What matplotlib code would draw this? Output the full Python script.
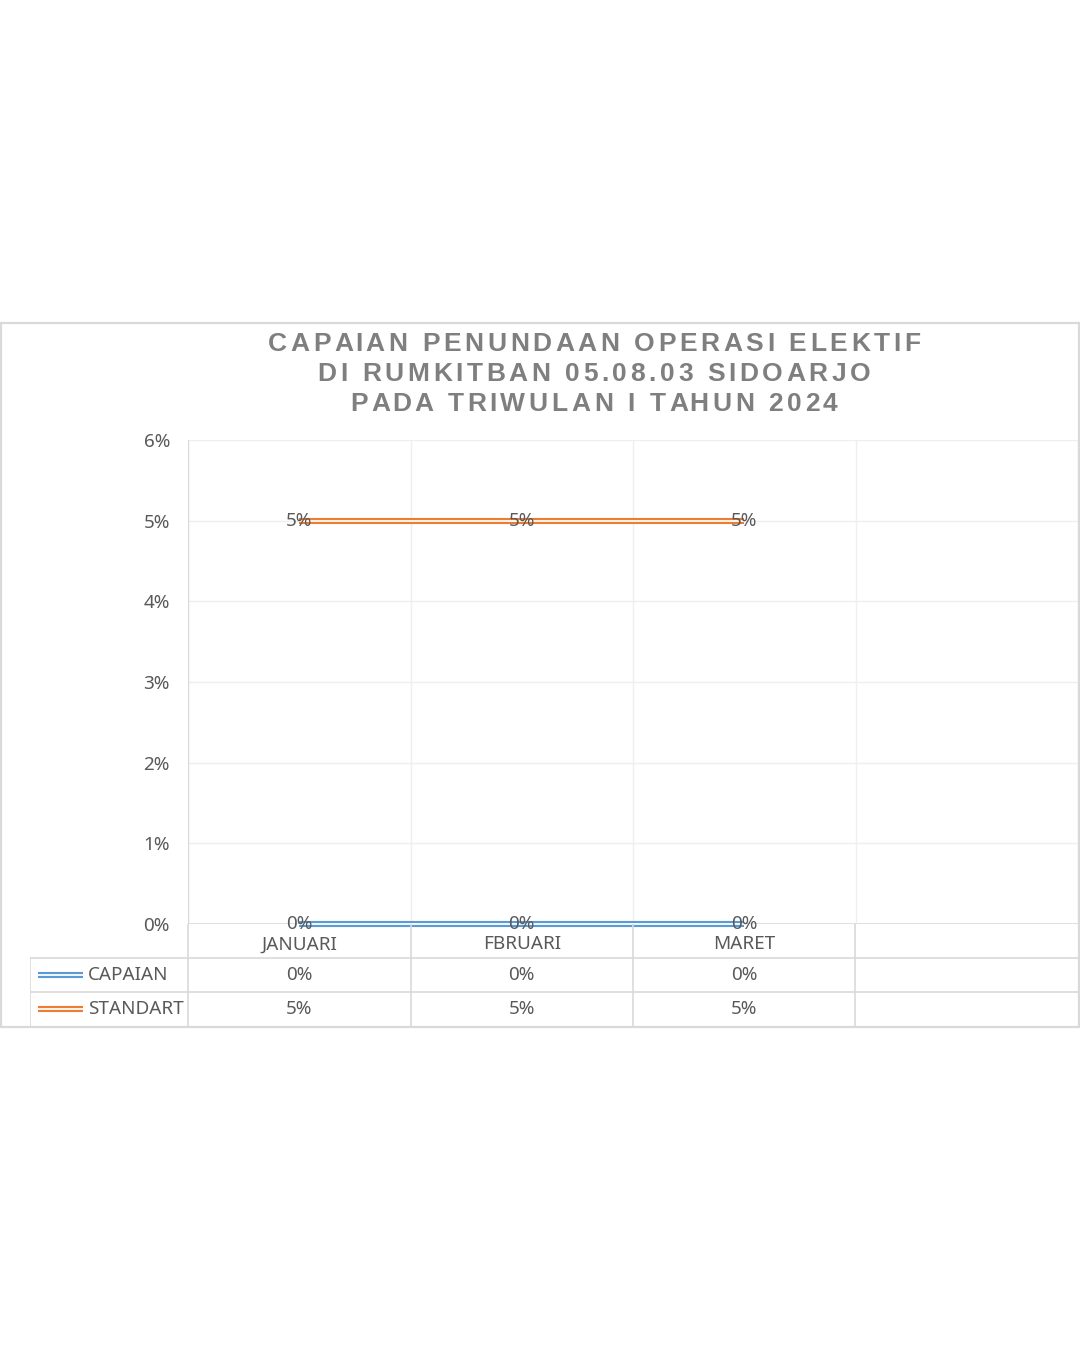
import matplotlib
matplotlib.use("Agg")
import matplotlib.pyplot as plt
from matplotlib.patches import Rectangle

bulan = ["JANUARI", "FBRUARI", "MARET"]
capaian = [0, 0, 0]
standart = [5, 5, 5]
series_names = ["CAPAIAN", "STANDART"]
series_colors = ["#5B9BD5", "#ED7D31"]
title_lines = [
    "CAPAIAN PENUNDAAN OPERASI ELEKTIF",
    "DI RUMKITBAN 05.08.03 SIDOARJO",
    "PADA TRIWULAN I TAHUN 2024",
]
y_ticks = [0, 1, 2, 3, 4, 5, 6]

W, H = 1080, 1350
TXT = "#595959"
GRID = "#efefef"
TLINE = "#d9d9d9"
FONT = "Noto Sans"
FS = 13.6


def fx(px):
    return px / W


def fy(py):
    return (H - py) / H


fig = plt.figure(figsize=(10.8, 13.5), dpi=100)
fig.patch.set_facecolor("white")

# chart border
fig.patches.append(Rectangle((fx(1), fy(1027)), fx(1078), (1027 - 323) / H,
                             transform=fig.transFigure, fill=False,
                             edgecolor=TLINE, linewidth=1.6))

# plot area
ax = fig.add_axes([fx(188), fy(924), fx(1078 - 188), (924 - 440) / H])
ax.set_xlim(0, 4)
ax.set_ylim(0, 6)
for s in ax.spines.values():
    s.set_visible(False)
ax.set_xticks([])
ax.set_yticks(y_ticks)
ax.set_yticklabels([f"{v}%" for v in y_ticks], fontsize=FS, color=TXT, family=FONT)
ax.tick_params(axis="y", length=0, pad=13)
for v in y_ticks[1:]:
    ax.axhline(v, color=GRID, lw=1, zorder=0)
for k in range(1, 5):
    ax.axvline(k, color=GRID, lw=1, zorder=0)
ax.axvline(0, color=TLINE, lw=1, zorder=0)
ax.axhline(0, color=TLINE, lw=1.2, zorder=1)

xs = [i + 0.5 for i in range(len(bulan))]
for vals, col in zip([capaian, standart], series_colors):
    ax.plot(xs, vals, color=col, lw=4.4, solid_capstyle="butt", zorder=3, clip_on=False)
    ax.plot(xs, vals, color="white", lw=1.3, solid_capstyle="butt", zorder=4, clip_on=False)
    for x, v in zip(xs, vals):
        ax.text(x, v, f"{v}%", ha="center", va="center", fontsize=FS,
                color=TXT, family=FONT, zorder=5)

# data table
left = -(188 - 30) / 222.5
tab = fig.add_axes([fx(30), fy(1026), fx(1078 - 30), (1026 - 924) / H])
tab.set_xlim(left, 4)
tab.set_ylim(3, 0)
tab.axis("off")
for k in range(0, 4):
    tab.plot([k, k], [0, 3], color=TLINE, lw=1.2)
tab.plot([left, left], [1, 3], color=TLINE, lw=1.2)
for r in [1, 2]:
    tab.plot([left, 4], [r, r], color=TLINE, lw=1.2)

for i, name in enumerate(bulan):
    tab.text(i + 0.5, 0.6, name, ha="center", va="center", fontsize=FS,
             color=TXT, family=FONT)
for r, (name, vals, col) in enumerate(zip(series_names, [capaian, standart], series_colors)):
    row = r + 1.5
    kx0 = left + 8 / 222.5
    kx1 = left + 53 / 222.5
    tab.plot([kx0, kx1], [row, row], color=col, lw=4.4, solid_capstyle="butt")
    tab.plot([kx0, kx1], [row, row], color="white", lw=1.3, solid_capstyle="butt")
    tab.text(left + 58 / 222.5, row, name, ha="left", va="center", fontsize=FS,
             color=TXT, family=FONT)
    for i, v in enumerate(vals):
        tab.text(i + 0.5, row, f"{v}%", ha="center", va="center", fontsize=FS,
                 color=TXT, family=FONT)

# title with letter spacing
renderer = fig.canvas.get_renderer()
tprops = dict(fontsize=19, fontweight="bold", color="#7f7f7f", family="Liberation Sans")
track = 3.6


def text_w(s):
    t = fig.text(0, 0, s + "|", **tprops)
    w = t.get_window_extent(renderer).width
    t.remove()
    return w


bar_w = text_w("")
for line, cy in zip(title_lines, [344, 374, 404]):
    total = text_w(line) - bar_w + track * (len(line) - 1)
    x0 = 594 - total / 2
    for i, ch in enumerate(line):
        if ch == " ":
            continue
        px = x0 + text_w(line[:i]) - bar_w + track * i
        fig.text(fx(px), fy(cy), ch, ha="left", va="center", **tprops)

fig.savefig("out.png", dpi=100, facecolor="white")
